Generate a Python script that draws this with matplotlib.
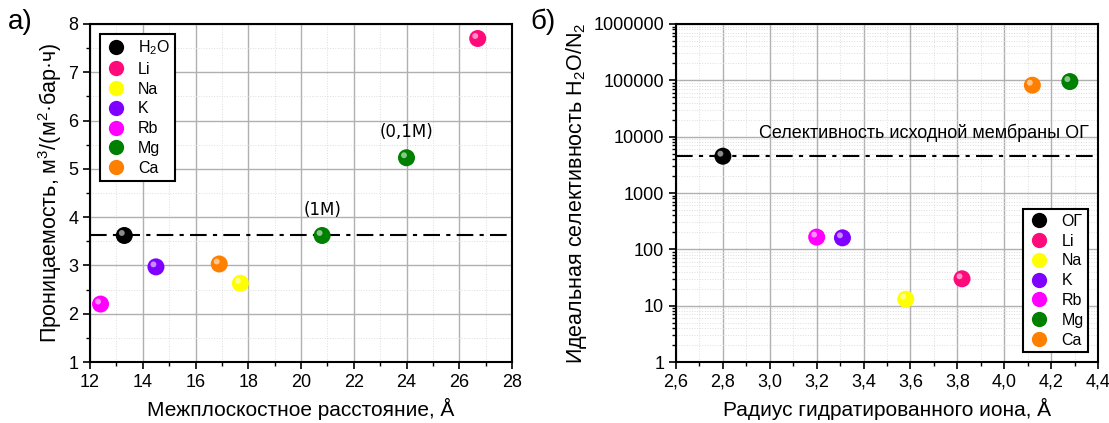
import matplotlib
matplotlib.use("Agg")
import matplotlib.pyplot as plt
from matplotlib.lines import Line2D
from matplotlib.ticker import MultipleLocator, FuncFormatter, LogLocator, NullFormatter
from matplotlib.transforms import offset_copy

plt.rcParams["font.family"] = ["Liberation Sans", "DejaVu Sans"]
plt.rcParams["mathtext.default"] = "regular"

# panel a): interplanar spacing vs permeability
names_a = ["H$_2$O", "Li", "Na", "K", "Rb", "Mg", "Ca"]
colors = ["#000000", "#ff0a7a", "#ffff00", "#7f00ff", "#ff00ff", "#008000", "#ff8000"]
spacing = [[13.3], [26.7], [17.7], [14.5], [12.4], [20.8, 24.0], [16.9]]
permeability = [[3.62], [7.70], [2.63], [2.97], [2.20], [3.62, 5.23], [3.03]]
mg_labels = ["(1M)", "(0,1M)"]
perm_ref = 3.62

# panel б): hydrated ion radius vs ideal selectivity
names_b = ["ОГ", "Li", "Na", "K", "Rb", "Mg", "Ca"]
radius = [2.80, 3.82, 3.58, 3.31, 3.20, 4.28, 4.12]
selectivity = [4500, 30, 13, 160, 165, 95000, 82000]
sel_ref = 4500
sel_ticks = [1, 10, 100, 1000, 10000, 100000, 1000000]


def sphere(ax, x, y, color, fig):
    ax.scatter(x, y, s=150, color=color, edgecolors="none", zorder=5)
    hl = offset_copy(ax.transData, fig=fig, x=-1.8, y=1.8, units="points")
    ax.scatter(x, y, s=18, color="white", alpha=0.55, edgecolors="none",
               transform=hl, zorder=6)


def style_grid(ax):
    ax.grid(which="major", color="#b0b0b0", lw=1.0)
    ax.grid(which="minor", color="#dddddd", lw=0.7, ls=":")
    ax.set_axisbelow(True)
    for sp in ax.spines.values():
        sp.set_linewidth(1.5)
    ax.tick_params(which="major", length=5, width=1.2, labelsize=13, direction="out")
    ax.tick_params(which="minor", length=3, width=1.0, direction="out")


def handles(names):
    return [Line2D([], [], ls="none", marker="o", ms=11, mfc=c, mec="none", label=n)
            for n, c in zip(names, colors)]


def add_legend(ax, names, loc, anchor):
    leg = ax.legend(handles=handles(names), loc=loc, bbox_to_anchor=anchor,
                    fontsize=11.5, frameon=True, fancybox=False, edgecolor="black",
                    framealpha=1, borderpad=0.3, labelspacing=0.3,
                    handlelength=1.4, handletextpad=0.7, borderaxespad=0.6)
    leg.get_frame().set_linewidth(1.5)
    return leg


comma = FuncFormatter(lambda v, p: f"{v:.1f}".replace(".", ","))

fig = plt.figure(figsize=(11.09, 4.23), dpi=100)
ax1 = fig.add_axes([90 / 1109, 1 - 362 / 423, 422 / 1109, 338 / 423])
ax2 = fig.add_axes([676 / 1109, 1 - 362 / 423, 422 / 1109, 338 / 423])

# ---- a)
for xs, ys, c in zip(spacing, permeability, colors):
    sphere(ax1, xs, ys, c, fig)
ax1.axhline(perm_ref, color="black", lw=1.5, dashes=(8, 3, 2, 3), zorder=4)
for x, y, lab in zip(spacing[5], permeability[5], mg_labels):
    ax1.annotate(lab, (x, y), xytext=(0, 12), textcoords="offset points",
                 ha="center", va="bottom", fontsize=12, family="DejaVu Sans")
ax1.set_xlim(12, 28)
ax1.set_ylim(1, 8)
ax1.xaxis.set_major_locator(MultipleLocator(2))
ax1.xaxis.set_minor_locator(MultipleLocator(1))
ax1.yaxis.set_major_locator(MultipleLocator(1))
ax1.yaxis.set_minor_locator(MultipleLocator(0.5))
style_grid(ax1)
ax1.set_xlabel("Межплоскостное расстояние, Å", fontsize=15, labelpad=5)
ax1.set_ylabel("Проницаемость, м$^3$/(м$^2$·бар·ч)", fontsize=15.5, labelpad=3)
add_legend(ax1, names_a, "upper left", (0.0, 1.0))
fig.text(8 / 1109, 1 - 22 / 423, "а)", fontsize=20, va="center")

# ---- б)
for x, y, c in zip(radius, selectivity, colors):
    sphere(ax2, [x], [y], c, fig)
ax2.axhline(sel_ref, color="black", lw=1.5, dashes=(8, 3, 2, 3), zorder=4)
ax2.text(4.36, 8200, "Селективность исходной мембраны ОГ", ha="right", va="bottom",
         fontsize=13)
ax2.set_yscale("log")
ax2.set_xlim(2.6, 4.4)
ax2.set_ylim(1, 1e6)
ax2.xaxis.set_major_locator(MultipleLocator(0.2))
ax2.xaxis.set_minor_locator(MultipleLocator(0.1))
ax2.xaxis.set_major_formatter(comma)
ax2.set_yticks(sel_ticks)
ax2.set_yticklabels([str(v) for v in sel_ticks])
ax2.yaxis.set_minor_locator(LogLocator(base=10, subs=range(2, 10), numticks=20))
ax2.yaxis.set_minor_formatter(NullFormatter())
ax2.set_ylim(1, 1e6)
style_grid(ax2)
ax2.set_xlabel("Радиус гидратированного иона, Å", fontsize=15, labelpad=5)
ax2.set_ylabel("Идеальная селективность H$_2$O/N$_2$", fontsize=15.5, labelpad=3)
add_legend(ax2, names_b, "lower right", (1.0, 0.0))
fig.text(530 / 1109, 1 - 22 / 423, "б)", fontsize=20, va="center")

fig.savefig("out.png", dpi=100, facecolor="white")
